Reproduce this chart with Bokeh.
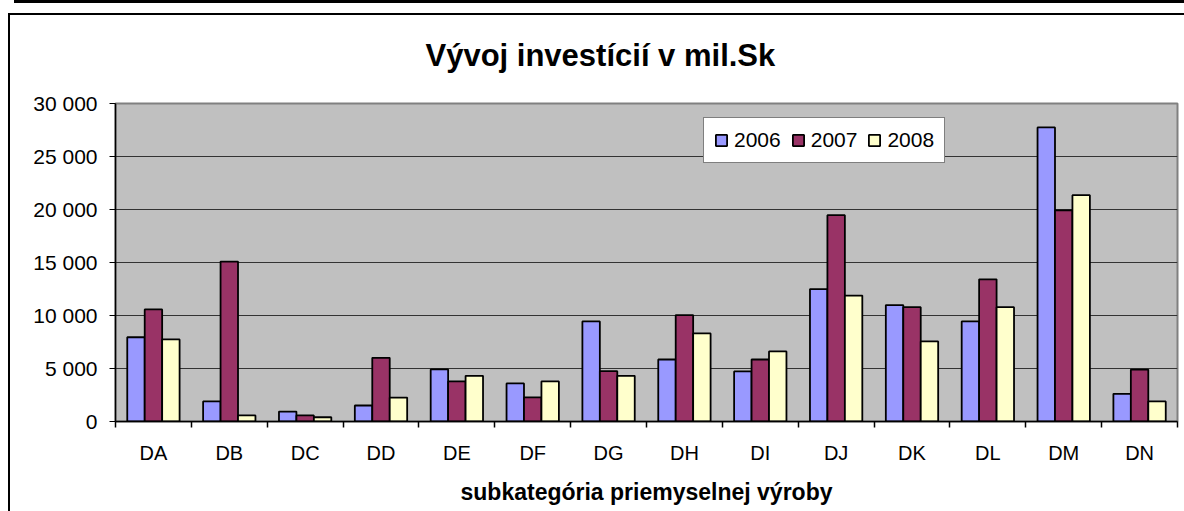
from bokeh.plotting import figure
from bokeh.models import (ColumnDataSource, FixedTicker, Legend, LegendItem, Title,
                          InlineStyleSheet)
from bokeh.transform import dodge
from bokeh.embed import file_html
from bokeh.resources import INLINE

categories = ["DA", "DB", "DC", "DD", "DE", "DF", "DG", "DH", "DI", "DJ", "DK", "DL", "DM", "DN"]
years = ["2006", "2007", "2008"]
v2006 = [7950, 1890, 940, 1510, 4910, 3590, 9440, 5850, 4720, 12490, 10980, 9440, 27740, 2610]
v2007 = [10570, 15090, 570, 6010, 3780, 2270, 4750, 10040, 5850, 19460, 10790, 13410, 19920, 4900]
v2008 = [7740, 570, 400, 2260, 4310, 3780, 4310, 8310, 6610, 11880, 7550, 10790, 21350, 1890]
y_ticks = [0, 5000, 10000, 15000, 20000, 25000, 30000]
title_text = "Vývoj investícií v mil.Sk"
x_title = "subkategória priemyselnej výroby"

colors = ["#9999FF", "#993366", "#FFFFCC"]
FONT = "Liberation Sans"

src = ColumnDataSource(dict(
    x=[i + 0.5 for i in range(len(categories))],
    cat=categories, y2006=v2006, y2007=v2007, y2008=v2008,
))

p = figure(width=1184, height=511, x_range=(0, len(categories)), y_range=(0, 30000),
           output_backend="svg", toolbar_location=None,
           min_border_left=115, min_border_right=7, min_border_top=103, min_border_bottom=90)
p.background_fill_color = "#C0C0C0"
p.border_fill_color = "white"
p.outline_line_color = "#808080"
p.outline_line_width = 2

bw = 0.23
offs = [-bw, 0.0, bw]
renderers = []
for yr, col, off in zip(years, colors, offs):
    r = p.vbar(x=dodge("x", off, range=p.x_range), top="y" + yr, width=bw, source=src,
               fill_color=col, line_color="black", line_width=1.8)
    renderers.append(r)

# title
t = Title(text=title_text, text_font=FONT, text_font_size="31px", text_font_style="bold",
          align="left", offset=310, standoff=61, text_color="black")
p.add_layout(t, "above")

# y axis
yax = p.yaxis[0]
yax.ticker = FixedTicker(ticks=y_ticks)
yax.major_label_overrides = {v: f"{v:,}".replace(",", " ") for v in y_ticks}
yax.major_label_text_font = FONT
yax.major_label_text_font_size = "21px"
yax.major_label_text_color = "black"
yax.axis_line_color = "black"
yax.axis_line_width = 1.5
yax.major_tick_line_color = "black"
yax.major_tick_out = 6
yax.major_tick_in = 0
yax.minor_tick_line_color = None
yax.major_label_standoff = 12

# x axis: labels at category centers, ticks at category boundaries
xax = p.xaxis[0]
centers = [i + 0.5 for i in range(len(categories))]
xax.ticker = FixedTicker(ticks=centers, minor_ticks=list(range(len(categories) + 1)))
xax.major_label_overrides = {c: n for c, n in zip(centers, categories)}
xax.major_label_text_font = FONT
xax.major_label_text_font_size = "20px"
xax.major_label_text_color = "black"
xax.major_tick_line_color = None
xax.major_tick_out = 0
xax.major_tick_in = 0
xax.minor_tick_line_color = "black"
xax.minor_tick_line_width = 1.5
xax.minor_tick_out = 6
xax.minor_tick_in = 0
xax.axis_line_color = "black"
xax.axis_line_width = 1.5
xax.major_label_standoff = 14
xax.axis_label = x_title
xax.axis_label_text_font = FONT
xax.axis_label_text_font_size = "23px"
xax.axis_label_text_font_style = "bold"
xax.axis_label_text_color = "black"
xax.axis_label_standoff = 12

p.xgrid.grid_line_color = None
p.ygrid.grid_line_color = "#333333"
p.ygrid.grid_line_width = 1
p.ygrid.ticker = FixedTicker(ticks=y_ticks)

legend = Legend(items=[LegendItem(label=yr, renderers=[r]) for yr, r in zip(years, renderers)],
                orientation="horizontal", location=(588, 258))
legend.label_text_font = FONT
legend.label_text_font_size = "21px"
legend.label_text_color = "black"
legend.glyph_width = 14
legend.glyph_height = 14
legend.padding = 10
legend.spacing = 10
legend.label_standoff = 6
legend.margin = 0
legend.border_line_color = "black"
legend.border_line_width = 1
legend.background_fill_color = "white"
legend.background_fill_alpha = 1.0
p.add_layout(legend, "center")

# outer chart frame and the thick bar above it (decoration only)
p.stylesheets = [InlineStyleSheet(css="""
:host { position: relative; }
:host::before { content: ""; position: absolute; left: 8px; top: 13px; right: 0; bottom: 0;
  border-left: 2px solid black; border-top: 2px solid black; pointer-events: none; z-index: 10; }
:host::after { content: ""; position: absolute; left: 14px; top: 0; right: 0; height: 3px;
  background: black; pointer-events: none; z-index: 10; }
""")]

open("out.html", "w").write(file_html(p, INLINE))
